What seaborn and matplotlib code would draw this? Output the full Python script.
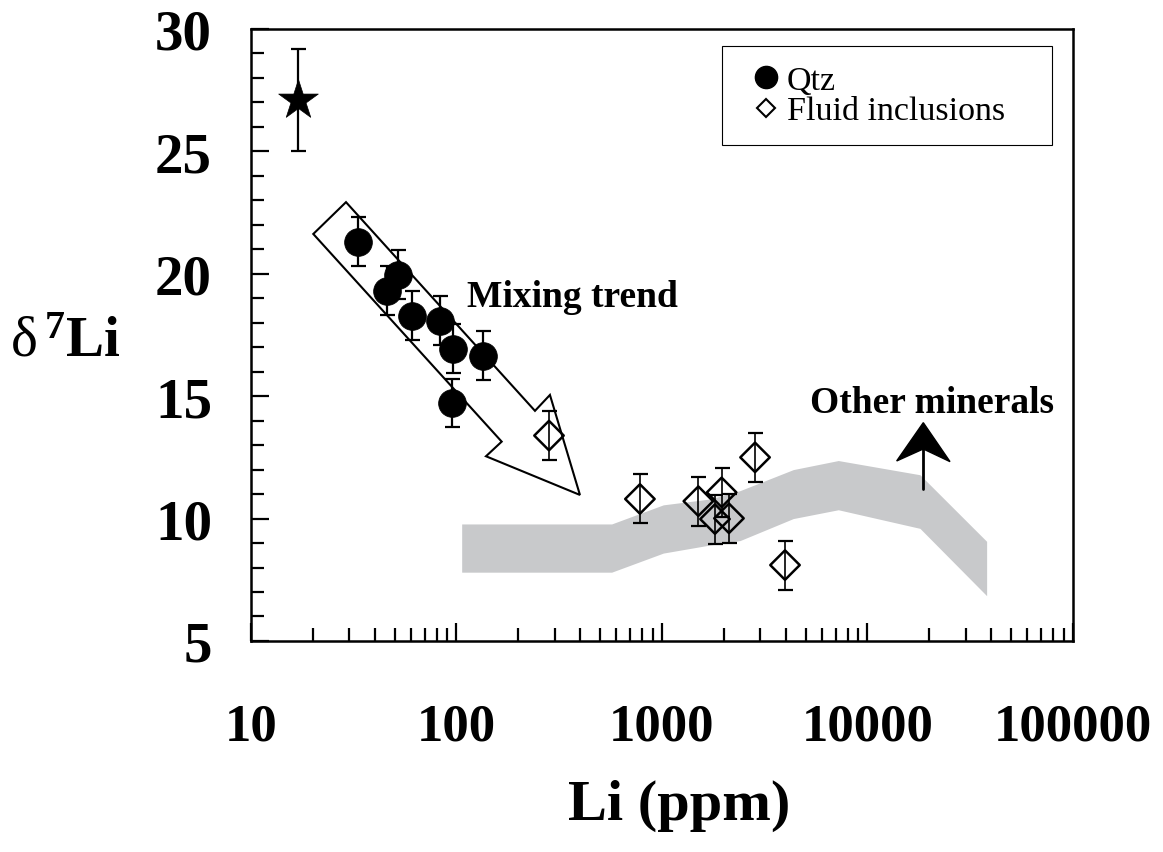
import matplotlib
matplotlib.use("Agg")
import matplotlib.pyplot as plt
import numpy as np
import pandas as pd
import seaborn as sns
from matplotlib.patches import Polygon
from matplotlib.lines import Line2D
from matplotlib.ticker import LogLocator, MultipleLocator, NullFormatter

# ---------------- data ----------------
star_li = [17.0]
star_d7li = [27.1]
star_err = [2.1]

qtz_li = [33.3, 45.7, 52.1, 60.5, 83.1, 96.4, 135.0, 94.8]
qtz_d7li = [21.31, 19.31, 19.95, 18.29, 18.08, 16.93, 16.65, 14.72]
qtz_err = [1.0, 1.0, 1.0, 1.0, 1.0, 1.0, 1.0, 1.0]

fi_li = [282, 781, 1503, 1951, 1811, 2118, 2837, 3969]
fi_d7li = [13.39, 10.80, 10.71, 11.07, 9.98, 10.01, 12.50, 8.10]
fi_err = [1.0, 1.0, 1.0, 1.0, 1.0, 1.0, 1.0, 1.0]

band_li = [106, 569, 1015, 1714, 2397, 4354, 7210, 18000, 38000]
band_upper = [9.78, 9.78, 10.56, 10.80, 11.14, 12.00, 12.37, 11.79, 9.07]
band_lower = [7.81, 7.81, 8.59, 8.92, 9.10, 10.00, 10.36, 9.60, 6.85]

x_ticks = [10, 100, 1000, 10000, 100000]
x_tick_labels = ["10", "100", "1000", "10000", "100000"]
y_ticks = [5, 10, 15, 20, 25, 30]
y_tick_labels = ["5", "10", "15", "20", "25", "30"]

legend_labels = ["Qtz", "Fluid inclusions"]

# ---------------- style ----------------
sns.set_theme(style="white")
plt.rcParams["font.family"] = ["Liberation Serif", "DejaVu Serif"]
plt.rcParams["mathtext.fontset"] = "custom"
plt.rcParams["mathtext.rm"] = "Liberation Serif"
plt.rcParams["mathtext.bf"] = "Liberation Serif:bold"
plt.rcParams["mathtext.it"] = "Liberation Serif:italic"
for key in ["text.color", "axes.labelcolor", "xtick.color", "ytick.color",
            "xtick.labelcolor", "ytick.labelcolor", "axes.edgecolor"]:
    plt.rcParams[key] = "black"

fig = plt.figure(figsize=(11.63, 8.53), dpi=100)
ax = fig.add_axes([0.2158, 0.2474, 0.7068, 0.7175])

qtz_df = pd.DataFrame({"Li": qtz_li, "d7Li": qtz_d7li})
fi_df = pd.DataFrame({"Li": fi_li, "d7Li": fi_d7li})
star_df = pd.DataFrame({"Li": star_li, "d7Li": star_d7li})

# grey band of other minerals
ax.fill_between(band_li, band_lower, band_upper, color="#c8c9cb", lw=0, zorder=1)

# mixing-trend hollow arrow (axes coordinates)
arrow_pts = [(0.0758, 0.665), (0.1156, 0.717), (0.3455, 0.376), (0.3637, 0.402),
             (0.4002, 0.2386), (0.2859, 0.3018), (0.3050, 0.3257)]
ax.add_patch(Polygon(arrow_pts, closed=True, transform=ax.transAxes,
                     fc="none", ec="black", lw=1.5, zorder=2, joinstyle="miter"))

# other-minerals arrow
ax.plot([0.8179, 0.8179], [0.2484, 0.32], transform=ax.transAxes,
        color="black", lw=2.0, zorder=3)
head = [(0.8179, 0.3567), (0.8504, 0.2930), (0.8179, 0.3137), (0.7855, 0.2941)]
ax.add_patch(Polygon(head, closed=True, transform=ax.transAxes,
                     fc="black", ec="black", lw=1, zorder=3))

# error bars
eb_kw = dict(fmt="none", ecolor="black", elinewidth=1.6, capsize=5.4, capthick=1.6)
ax.errorbar(qtz_li, qtz_d7li, yerr=qtz_err, zorder=3, **eb_kw)
ax.errorbar(star_li, star_d7li, yerr=star_err, zorder=3, **eb_kw)
ax.errorbar(fi_li, fi_d7li, yerr=fi_err, zorder=5, fmt="none", ecolor="black",
            elinewidth=1.2, capsize=5.4, capthick=1.6)

# markers
sns.scatterplot(data=qtz_df, x="Li", y="d7Li", ax=ax, marker="o", s=20 ** 2,
                color="black", edgecolor="black", linewidth=0.5, zorder=4, legend=False)
sns.scatterplot(data=fi_df, x="Li", y="d7Li", ax=ax, marker="D", s=15 ** 2,
                facecolor="none", edgecolor="black", linewidth=1.8, zorder=4, legend=False)
sns.scatterplot(data=star_df, x="Li", y="d7Li", ax=ax, marker="*", s=30 ** 2,
                color="black", edgecolor="black", linewidth=0.5, zorder=4, legend=False)

# annotations
ax.text(0.3911, 0.5474, "Mixing trend", transform=ax.transAxes, ha="center",
        va="baseline", fontsize=27, fontweight="bold", color="black", zorder=6)
ax.text(0.829, 0.3737, "Other minerals", transform=ax.transAxes, ha="center",
        va="baseline", fontsize=27, fontweight="bold", color="black", zorder=6)

# axes
ax.set_xscale("log")
ax.set_xlim(10, 100000)
ax.set_ylim(5, 30)
ax.set_xticks(x_ticks, labels=x_tick_labels, fontweight="bold")
ax.set_yticks(y_ticks, labels=y_tick_labels, fontweight="bold")
ax.xaxis.set_minor_locator(LogLocator(base=10, subs=np.arange(2, 10)))
ax.xaxis.set_minor_formatter(NullFormatter())
ax.yaxis.set_minor_locator(MultipleLocator(1))
ax.tick_params(axis="x", which="major", direction="in", length=13, width=1.6,
               labelsize=38, pad=44, bottom=True, top=False, colors="black")
ax.tick_params(axis="y", which="major", direction="in", length=13, width=1.6,
               labelsize=41, pad=28, left=True, right=False, colors="black")
ax.tick_params(axis="both", which="minor", direction="in", length=9.4, width=1.6,
               bottom=True, left=True, top=False, right=False, colors="black")
for sp in ax.spines.values():
    sp.set_visible(True)
    sp.set_color("black")
    sp.set_linewidth(1.8)
ax.grid(False)

ax.set_xlabel("Li (ppm)", fontsize=42, fontweight="bold", color="black")
ax.xaxis.set_label_coords(0.5207, -0.268)
ax.xaxis.label.set_va("center")
ax.set_ylabel(r"$\mathrm{\delta}\,^{\mathbf{7}}\mathbf{Li}$", fontsize=41, rotation=0,
              color="black")
ax.yaxis.set_label_coords(-0.2263, 0.4657)
ax.yaxis.label.set_va("baseline")
ax.yaxis.label.set_ha("center")

# legend
handles = [
    Line2D([], [], ls="none", marker="o", ms=16, color="black"),
    Line2D([], [], ls="none", marker="D", ms=9.4, mfc="none", mec="black", mew=1.5),
]
leg = ax.legend(handles, legend_labels, loc="upper left",
                bbox_to_anchor=(0.573, 0.5, 0.4015, 0.472), mode="expand",
                borderaxespad=0, frameon=True, fancybox=False, edgecolor="black",
                fontsize=24.5, borderpad=0.55, handlelength=1.5,
                handletextpad=-0.15, labelspacing=0.0)
leg.get_frame().set_linewidth(0.8)
leg.get_frame().set_alpha(None)
leg.get_frame().set_facecolor("white")
for t in leg.get_texts():
    t.set_color("black")

fig.savefig("out.png", dpi=100)
